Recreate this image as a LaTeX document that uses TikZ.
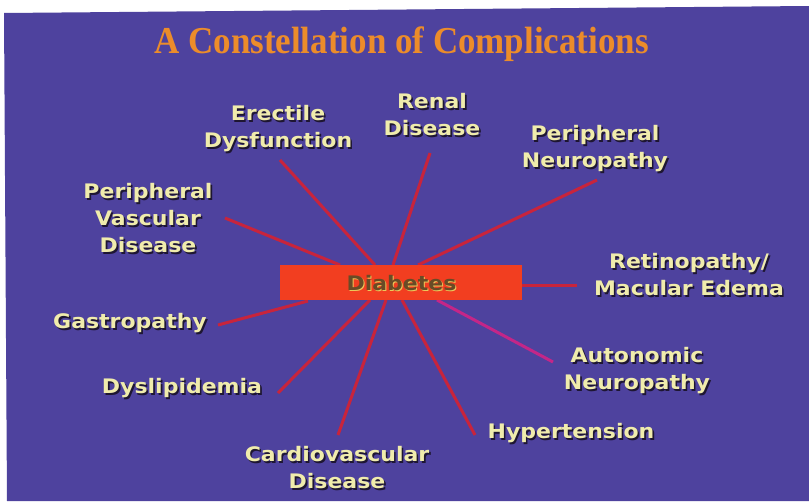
\documentclass[tikz,border=0pt]{standalone}
\usepackage{fontspec}
\newfontfamily\labf{DejaVu Sans}
\newfontfamily\titf{Liberation Serif}
\definecolor{bgblue}{RGB}{78,66,158}
\definecolor{labcol}{RGB}{240,236,172}
\definecolor{shcol}{RGB}{30,22,50}
\definecolor{linered}{RGB}{200,36,60}
\definecolor{linemag}{RGB}{196,38,136}
\definecolor{boxred}{RGB}{242,62,32}
\definecolor{titcol}{RGB}{236,140,42}
\definecolor{diabtxt}{RGB}{105,75,38}
\definecolor{diabsh}{RGB}{235,200,90}
\tikzset{
  lab/.style={font=\labf\bfseries\fontsize{20}{27}\selectfont, text=labcol, align=center, xscale=1.1, inner sep=0pt},
  labsh/.style={lab, text=shcol},
  spoke/.style={draw=linered, line width=3pt},
  tit/.style={font=\titf\bfseries\fontsize{38}{40}\selectfont, xscale=0.92, inner sep=0pt, anchor=base},
}
\newcommand\clab[4]{%
  \node[labsh] (#1s) at (#2+1.6,#3+1.6) {#4};
  \node[lab] (#1) at (#2,#3) {#4};}
\begin{document}
\begin{tikzpicture}[x=1pt,y=-1pt]
\useasboundingbox (0,0) rectangle (809,501);
\fill[white] (0,0) rectangle (809,501);
\fill[bgblue] (4,13) -- (809,6) -- (809,501) -- (7,501) -- cycle;
% title
\node[tit, text=titcol] (title) at (401.5,53) {A Constellation of Complications};
% hub coordinates
\coordinate (hPVD) at (340,265); \coordinate (ePVD) at (225,218);
\coordinate (hED) at (375,265);  \coordinate (eED) at (280,160);
\coordinate (hRD) at (393,265);  \coordinate (eRD) at (430,153);
\coordinate (hPN) at (418,265);  \coordinate (ePN) at (597,180);
\coordinate (hRM) at (522,285);  \coordinate (eRM) at (577,285);
\coordinate (hAN) at (437,300);  \coordinate (eAN) at (553,362);
\coordinate (hHT) at (402,300);  \coordinate (eHT) at (475,435);
\coordinate (hCV) at (386,300);  \coordinate (eCV) at (338,435);
\coordinate (hDL) at (370,300);  \coordinate (eDL) at (278,393);
\coordinate (hGP) at (308,301);  \coordinate (eGP) at (218,325);
\draw[spoke] (hPVD) -- (ePVD);
\draw[spoke] (hED) -- (eED);
\draw[spoke] (hRD) -- (eRD);
\draw[spoke] (hPN) -- (ePN);
\draw[spoke] (hRM) -- (eRM);
\draw[spoke, draw=linemag] (hAN) -- (eAN);
\draw[spoke] (hHT) -- (eHT);
\draw[spoke] (hCV) -- (eCV);
\draw[spoke] (hDL) -- (eDL);
\draw[spoke] (hGP) -- (eGP);
% central box
\node[fill=boxred, minimum width=242pt, minimum height=35pt, inner sep=0pt] (diab) at (401,282.5) {};
\node[lab, text=diabsh] (diabs) at (402.5,284) {Diabetes};
\node[lab, text=diabtxt] (diabt) at (401.5,283) {Diabetes};
% labels
\clab{ED}{278}{129}{Erectile\\Dysfunction}
\clab{RD}{432}{115}{Renal\\Disease}
\clab{PN}{595}{149}{Peripheral\\Neuropathy}
\clab{PVD}{148}{218}{Peripheral\\Vascular\\Disease}
\clab{GP}{130}{323}{Gastropathy}
\clab{RM}{689}{275}{Retinopathy/\\Macular Edema}
\clab{AN}{637}{371}{Autonomic\\Neuropathy}
\clab{HT}{571}{433}{Hypertension}
\clab{DL}{182}{388}{Dyslipidemia}
\clab{CV}{337}{468}{Cardiovascular\\Disease}
\end{tikzpicture}
\end{document}
